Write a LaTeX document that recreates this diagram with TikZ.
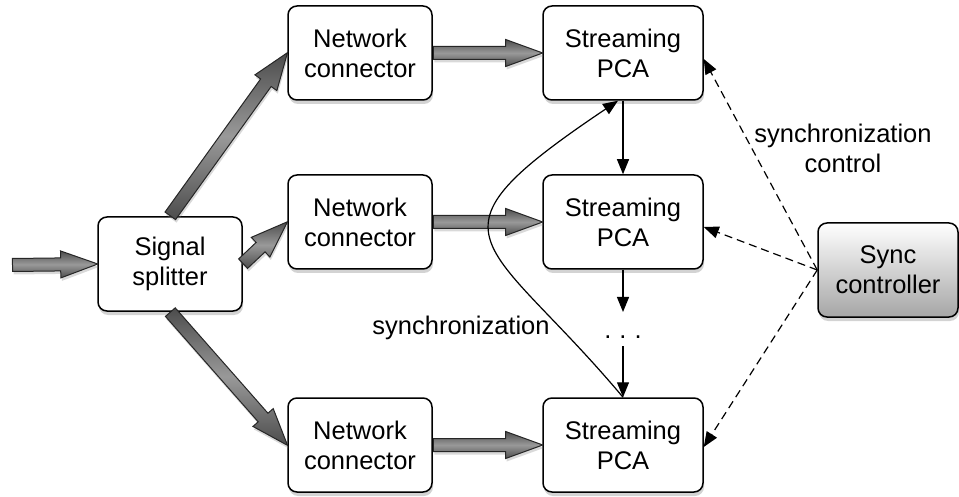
\documentclass[tikz,border=0pt]{standalone}
\usepackage{fontspec}
\setmainfont{Liberation Sans}
\usetikzlibrary{shapes.arrows,shadows,arrows.meta,calc}

\tikzset{
  block/.style={draw, line width=1.5pt, rounded corners=9pt, fill=white,
    minimum height=94pt, align=center, font=\fontsize{25.5}{30}\selectfont,
    drop shadow={shadow xshift=1pt, shadow yshift=-4pt, opacity=.35}},
  fatarrow/.style={single arrow, draw=black!85, line width=1pt,
    inner xsep=0pt, inner ysep=6pt, single arrow head extend=7pt,
    single arrow tip angle=40,
    top color=black!70, bottom color=black!70, middle color=black!40,
    drop shadow={shadow xshift=1pt, shadow yshift=-3pt, opacity=.3}},
  link/.style={-{Triangle[length=15pt,width=12pt]}, line width=1.2pt},
  synclink/.style={link, dash pattern=on 8pt off 5pt}
}
\newcommand\fatlink[2]{%
\path let \p1=(#1), \p2=(#2), \n1={atan2(\y2-\y1,\x2-\x1)},
  \n2={veclen(\x2-\x1,\y2-\y1)} in
  (\p1) node[fatarrow, rotate=\n1, minimum height=\n2, anchor=tail] {};}

\begin{document}
\begin{tikzpicture}[x=1pt, y=-1pt]
\useasboundingbox (0,0) rectangle (959,497);

% splitter and its input
\coordinate (in) at (12,265);
\node[block, minimum width=144pt] (split) at (170,264) {Signal\\splitter};

% network connectors
\node[block, minimum width=144pt] (nc1) at (360,53) {Network\\connector};
\node[block, minimum width=144pt] (nc2) at (360,222) {Network\\connector};
\node[block, minimum width=144pt] (nc3) at (360,445) {Network\\connector};

% streaming PCA blocks
\node[block, minimum width=160pt] (pca1) at (623,53) {Streaming\\PCA};
\node[block, minimum width=160pt] (pca2) at (623,222) {Streaming\\PCA};
\node[block, minimum width=160pt] (pca3) at (623,445) {Streaming\\PCA};

% sync controller
\node[block, minimum width=140pt, top color=white, bottom color=black!35] (sync) at (888,270) {Sync\\controller};

% data flow
\fatlink{in}{split.west}
\fatlink{split.north}{nc1.west}
\fatlink{split.east}{nc2.west}
\fatlink{split.south}{nc3.west}
\fatlink{nc1.east}{pca1.west}
\fatlink{nc2.east}{pca2.west}
\fatlink{nc3.east}{pca3.west}

% chain of PCA blocks
\coordinate (d1) at (623,312);
\coordinate (d2) at (623,346);
\node (dots) at (623,337) {\fontsize{25.5}{30}\selectfont .\hspace{8pt}.\hspace{8pt}.};
\draw[link] (pca1.south) -- (pca2.north);
\draw[link] (pca2.south) -- (d1);
\draw[link] (d2) -- (pca3.north);
\draw[link] (pca3.north) .. controls (486,234) and (412,239) .. ([xshift=-5pt]pca1.south);
\node[font=\fontsize{25.5}{30}\selectfont] (synclabel) at (461,328) {synchronization};

% control from sync controller
\draw[synclink] (sync.west) -- ([yshift=-6pt]pca1.east);
\draw[synclink] (sync.west) -- ([yshift=-5pt]pca2.east);
\draw[synclink] (sync.west) -- ([yshift=-2pt]pca3.east);
\node[font=\fontsize{25.5}{30}\selectfont, align=center] (ctrllabel) at (843,148) {synchronization\\control};
\end{tikzpicture}
\end{document}
